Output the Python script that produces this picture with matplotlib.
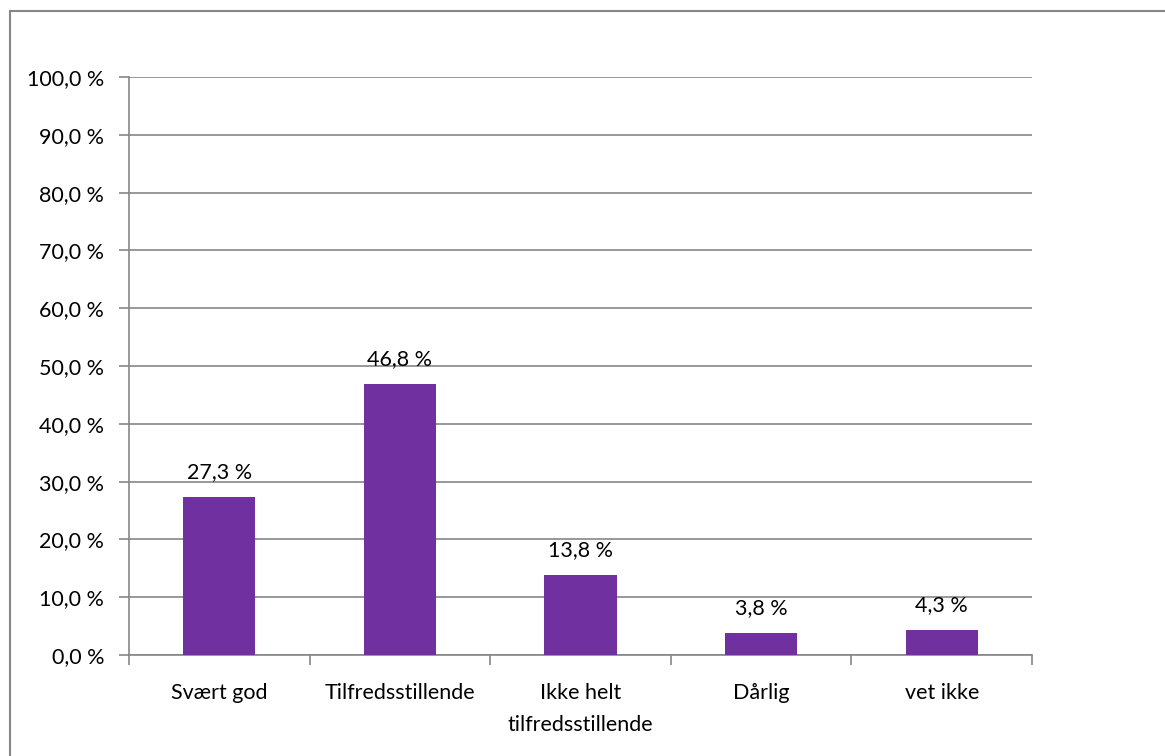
import matplotlib
matplotlib.use("Agg")
import matplotlib.pyplot as plt
from matplotlib.patches import Rectangle

categories = ["Svært god", "Tilfredsstillende", "Ikke helt\ntilfredsstillende", "Dårlig", "vet ikke"]
values = [27.3, 46.8, 13.8, 3.8, 4.3]
yticks = [0, 10, 20, 30, 40, 50, 60, 70, 80, 90, 100]

plt.rcParams['font.family'] = ['Lato', 'DejaVu Sans']
W, H = 1165, 756
FS = 15.5
fig = plt.figure(figsize=(W/100, H/100), dpi=100)
ax = fig.add_axes([129/W, 1-655/H, (1032-129)/W, (655-77)/H])

# outer border
fig.patches.append(Rectangle((10/W, -0.1), 1.2, 1-11/H+0.1, transform=fig.transFigure,
                             fill=False, edgecolor='#868686', linewidth=1.5))

x = list(range(len(categories)))
ax.bar(x, values, width=0.4, color='#7030A0', zorder=3)
for xi, v in zip(x, values):
    ax.annotate(f"{v:.1f} %".replace('.', ','), (xi, v), xytext=(0, 11), textcoords='offset points',
                ha='center', va='bottom', fontsize=FS, color='black')

ax.set_xlim(-0.5, len(categories)-0.5)
ax.set_ylim(0, 100)
ax.set_yticks(yticks)
ax.set_yticklabels([f"{t:.1f} %".replace('.', ',') for t in yticks], fontsize=FS)
ax.yaxis.grid(True, color='#868686', linewidth=1.2, zorder=0)
ax.set_axisbelow(True)

ax.set_xticks([i - 0.5 for i in range(len(categories)+1)])
ax.set_xticklabels([])
ax.set_xticks(x, minor=True)
ax.set_xticklabels(categories, minor=True, fontsize=FS, linespacing=1.75)
ax.tick_params(axis='x', which='minor', length=0, pad=20)
ax.tick_params(axis='x', which='major', length=7, color='#868686', width=1.2)
ax.tick_params(axis='y', length=7, color='#868686', width=1.2, pad=11)

for s in ['top', 'right']:
    ax.spines[s].set_visible(False)
for s in ['left', 'bottom']:
    ax.spines[s].set_color('#868686')
    ax.spines[s].set_linewidth(1.2)

fig.savefig("out.png", dpi=100)
